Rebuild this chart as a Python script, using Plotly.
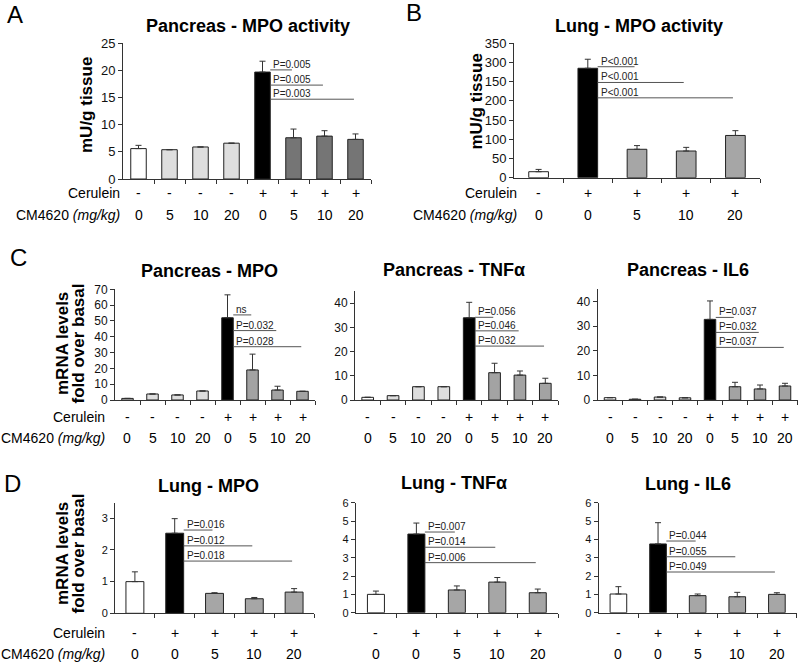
import plotly.graph_objects as go

# ---------------- DATA ----------------
# Panel A: Pancreas - MPO activity
A_cerulein = ["-", "-", "-", "-", "+", "+", "+", "+"]
A_doses = ["0", "5", "10", "20", "0", "5", "10", "20"]
A_values = [5.6, 5.4, 5.9, 6.6, 19.7, 7.6, 7.9, 7.3]
A_errors = [0.6, 0, 0, 0, 2.0, 1.6, 1.0, 1.0]
A_ptext = ["P=0.005", "P=0.005", "P=0.003"]
A_ptarget = [5, 6, 7]
A_plevel = [20.1, 17.3, 14.7]

# Panel B: Lung - MPO activity
B_cerulein = ["-", "+", "+", "+", "+"]
B_doses = ["0", "0", "5", "10", "20"]
B_values = [15.6, 285, 74, 69.5, 110]
B_errors = [6, 23.5, 9.6, 9.5, 12.5]
B_ptext = ["P<0.001", "P<0.001", "P<0.001"]
B_ptarget = [2, 3, 4]
B_plevel = [289, 248, 208]
B_tickvals = [0, 50, 100, 150, 200, 250, 300, 350]
B_ticktext = ["0", "50", "100", "150", "200", "150", "300", "350"]

# Panel C: Pancreas mRNA
C_cerulein = ["-", "-", "-", "-", "+", "+", "+", "+"]
C_doses = ["0", "5", "10", "20", "0", "5", "10", "20"]
C1_values = [1.0, 3.8, 3.2, 5.7, 52, 19, 6.3, 5.5]
C1_errors = [0, 0, 0, 0, 14.5, 10, 2.4, 0]
C1_ptext = ["ns", "P=0.032", "P=0.028"]
C1_plevel = [53.8, 43.9, 33.7]
C2_values = [1.1, 1.8, 5.5, 5.5, 34, 11.3, 10.3, 6.9]
C2_errors = [0, 0, 0, 0, 6.4, 3.9, 1.7, 2.1]
C2_ptext = ["P=0.056", "P=0.046", "P=0.032"]
C2_plevel = [34.2, 28.6, 22.3]
C3_values = [0.95, 0.3, 1.2, 0.9, 32.8, 5.4, 4.5, 5.7]
C3_errors = [0, 0, 0, 0, 7.5, 1.8, 1.6, 1.1]
C3_ptext = ["P=0.037", "P=0.032", "P=0.037"]
C3_plevel = [33.6, 27.5, 21.4]
C_ptarget = [5, 6, 7]

# Panel D: Lung mRNA
D_cerulein = ["-", "+", "+", "+", "+"]
D_doses = ["0", "0", "5", "10", "20"]
D1_values = [1.0, 2.53, 0.63, 0.46, 0.67]
D1_errors = [0.31, 0.46, 0.02, 0.04, 0.11]
D1_ptext = ["P=0.016", "P=0.012", "P=0.018"]
D1_plevel = [2.63, 2.13, 1.65]
D2_values = [1.0, 4.29, 1.24, 1.67, 1.09]
D2_errors = [0.18, 0.6, 0.22, 0.25, 0.2]
D2_ptext = ["P=0.007", "P=0.014", "P=0.006"]
D2_plevel = [4.4, 3.57, 2.73]
D3_values = [1.02, 3.75, 0.93, 0.87, 1.0]
D3_errors = [0.4, 1.16, 0.09, 0.24, 0.09]
D3_ptext = ["P=0.044", "P=0.055", "P=0.049"]
D3_plevel = [3.91, 3.05, 2.22]
D_ptarget = [2, 3, 4]

# ---------------- LAYOUT / STYLE ----------------
W, H = 800, 664
FONT = "Arial, Liberation Sans, sans-serif"
AXC = "#333333"

def px(x):
    return x / W

def py(y):
    return 1 - y / H

panels = [
    dict(title="Pancreas - MPO activity", tx=248, ty=26, cer=A_cerulein, dos=A_doses, val=A_values, err=A_errors,
         ptext=A_ptext, ptarget=A_ptarget, plevel=A_plevel, x0=123, x1=371, yzero=179, ytop=43.3, yr=[0, 25], dt=5,
         treated="#757575", bw=0.5, tfs=13, row=(193, 215), lab=122),
    dict(title="Lung - MPO activity", tx=639, ty=26, cer=B_cerulein, dos=B_doses, val=B_values, err=B_errors,
         ptext=B_ptext, ptarget=B_ptarget, plevel=B_plevel, x0=514, x1=760, yzero=177.7, ytop=43.3, yr=[0, 350],
         tickvals=B_tickvals, ticktext=B_ticktext, treated="#a6a6a6", bw=0.4, tfs=13, row=(193, 215), lab=519),
    dict(title="Pancreas - MPO", tx=209, ty=271, cer=C_cerulein, dos=C_doses, val=C1_values, err=C1_errors,
         ptext=C1_ptext, ptarget=C_ptarget, plevel=C1_plevel, x0=115, x1=315, yzero=400, ytop=289.3, yr=[0, 70], dt=10,
         treated="#a3a3a3", bw=0.46, tfs=12, row=(417, 438), lab=107),
    dict(title="Pancreas - TNFα", tx=454, ty=270, cer=C_cerulein, dos=C_doses, val=C2_values, err=C2_errors,
         ptext=C2_ptext, ptarget=C_ptarget, plevel=C2_plevel, x0=355, x1=558, yzero=400, ytop=291.2, yr=[0, 45], dt=10,
         treated="#a3a3a3", bw=0.46, tfs=12, row=(417, 438), lab=None),
    dict(title="Pancreas - IL6", tx=688, ty=270, cer=C_cerulein, dos=C_doses, val=C3_values, err=C3_errors,
         ptext=C3_ptext, ptarget=C_ptarget, plevel=C3_plevel, x0=597.5, x1=797.5, yzero=400, ytop=289.4, yr=[0, 45], dt=10,
         treated="#a3a3a3", bw=0.46, tfs=12, row=(417, 438), lab=None),
    dict(title="Lung - MPO", tx=208, ty=486, cer=D_cerulein, dos=D_doses, val=D1_values, err=D1_errors,
         ptext=D1_ptext, ptarget=D_ptarget, plevel=D1_plevel, x0=115, x1=314, yzero=613.3, ytop=502.5, yr=[0, 3.5], dt=1,
         treated="#a6a6a6", bw=0.45, tfs=11, row=(633, 654), lab=107),
    dict(title="Lung - TNFα", tx=454, ty=483, cer=D_cerulein, dos=D_doses, val=D2_values, err=D2_errors,
         ptext=D2_ptext, ptarget=D_ptarget, plevel=D2_plevel, x0=355.7, x1=558, yzero=612.7, ytop=502.7, yr=[0, 6], dt=1,
         treated="#a6a6a6", bw=0.42, tfs=11, row=(633, 654), lab=None),
    dict(title="Lung - IL6", tx=688, ty=484, cer=D_cerulein, dos=D_doses, val=D3_values, err=D3_errors,
         ptext=D3_ptext, ptarget=D_ptarget, plevel=D3_plevel, x0=598.6, x1=796.7, yzero=612.7, ytop=502.7, yr=[0, 6], dt=1,
         treated="#a6a6a6", bw=0.42, tfs=11, row=(633, 654), lab=None),
]

fig = go.Figure()
annotations = []
shapes = []
layout = {}


def bar_color(c, d, treated):
    if c == "-":
        return "#ffffff" if d == "0" else "#dedede"
    return "#000000" if d == "0" else treated


for k, p in enumerate(panels):
    idx = "" if k == 0 else str(k + 1)
    xa, ya = "x" + idx, "y" + idx
    n = len(p["val"])
    xs = list(range(n))
    colors = [bar_color(c, d, p["treated"]) for c, d in zip(p["cer"], p["dos"])]
    fig.add_trace(go.Bar(
        x=xs, y=p["val"], width=p["bw"], xaxis=xa, yaxis=ya,
        marker=dict(color=colors, line=dict(color="#222222", width=1)),
        error_y=dict(type="data", symmetric=False, array=p["err"], arrayminus=[0] * n,
                     color="#333333", thickness=1, width=3),
        showlegend=False, hoverinfo="skip",
    ))
    yaxis = dict(
        domain=[py(p["yzero"]), py(p["ytop"])], range=p["yr"], anchor=xa, automargin=False,
        showline=True, linecolor=AXC, linewidth=1, ticks="outside", ticklen=4, tickcolor=AXC,
        showgrid=False, zeroline=False, tickfont=dict(family=FONT, size=p["tfs"], color="#111"),
    )
    if "tickvals" in p:
        yaxis.update(tickmode="array", tickvals=p["tickvals"], ticktext=p["ticktext"])
    else:
        yaxis.update(tickmode="linear", tick0=0, dtick=p["dt"])
    xaxis = dict(
        domain=[px(p["x0"]), px(p["x1"])], range=[-0.5, n - 0.5], anchor=ya, automargin=False,
        showline=True, linecolor=AXC, linewidth=1, ticks="outside", ticklen=4, tickcolor=AXC,
        tickmode="array", tickvals=[i + 0.5 for i in range(n)], showticklabels=False,
        showgrid=False, zeroline=False,
    )
    layout["xaxis" + idx] = xaxis
    layout["yaxis" + idx] = yaxis

    annotations.append(dict(text="<b>%s</b>" % p["title"], x=px(p["tx"]), y=py(p["ty"]), xref="paper", yref="paper",
                            xanchor="center", yanchor="middle", showarrow=False,
                            font=dict(family=FONT, size=18, color="#000")))
    for i, (c, d) in enumerate(zip(p["cer"], p["dos"])):
        annotations.append(dict(text=c, x=i, y=py(p["row"][0]), xref=xa, yref="paper", xanchor="center",
                                yanchor="middle", showarrow=False, font=dict(family=FONT, size=14, color="#000")))
        annotations.append(dict(text=d, x=i, y=py(p["row"][1]), xref=xa, yref="paper", xanchor="center",
                                yanchor="middle", showarrow=False, font=dict(family=FONT, size=14, color="#000")))
    if p["lab"] is not None:
        annotations.append(dict(text="Cerulein", x=px(p["lab"]), y=py(p["row"][0]), xref="paper", yref="paper",
                                xanchor="right", yanchor="middle", showarrow=False,
                                font=dict(family=FONT, size=14, color="#000")))
        annotations.append(dict(text="CM4620 <i>(mg/kg)</i>", x=px(p["lab"]), y=py(p["row"][1]), xref="paper",
                                yref="paper", xanchor="right", yanchor="middle", showarrow=False,
                                font=dict(family=FONT, size=14, color="#000")))
    black = [i for i, (c, d) in enumerate(zip(p["cer"], p["dos"])) if c == "+" and d == "0"][0]
    xstart = black + p["bw"] / 2
    for t, tgt, lev in zip(p["ptext"], p["ptarget"], p["plevel"]):
        shapes.append(dict(type="line", xref=xa, yref=ya, x0=xstart, x1=tgt - 0.05, y0=lev, y1=lev,
                           line=dict(color="#555555", width=1)))
        annotations.append(dict(text=t, x=xstart, y=lev, xref=xa, yref=ya, xanchor="left", yanchor="bottom",
                                showarrow=False, xshift=1, yshift=-2, font=dict(family=FONT, size=10, color="#222")))

for letter, lx, ly in [("A", 15, 14), ("B", 414, 12), ("C", 18.5, 258), ("D", 12.5, 483)]:
    annotations.append(dict(text=letter, x=px(lx), y=py(ly), xref="paper", yref="paper", xanchor="center",
                            yanchor="middle", showarrow=False, font=dict(family=FONT, size=24, color="#000")))

for txt, yx, yy in [("mU/g tissue", 87, 105), ("mU/g tissue", 475.5, 102)]:
    annotations.append(dict(text="<b>%s</b>" % txt, x=px(yx), y=py(yy), xref="paper", yref="paper",
                            xanchor="center", yanchor="middle", textangle=-90, showarrow=False,
                            font=dict(family=FONT, size=17, color="#000")))
for yy in [344, 554]:
    for txt, yx in [("mRNA levels", 62), ("fold over basal", 77.5)]:
        annotations.append(dict(text="<b>%s</b>" % txt, x=px(yx), y=py(yy), xref="paper", yref="paper",
                                xanchor="center", yanchor="middle", textangle=-90, showarrow=False,
                                font=dict(family=FONT, size=17, color="#000")))

fig.update_layout(
    template="none",
    width=W, height=H, margin=dict(l=0, r=0, t=0, b=0, pad=0, autoexpand=False),
    paper_bgcolor="white", plot_bgcolor="white",
    annotations=annotations, shapes=shapes, bargap=0, **layout,
)

fig.write_html("out.html", config={"displayModeBar": False, "staticPlot": True},
               post_script="document.body.style.margin='0';document.body.style.padding='0';")
